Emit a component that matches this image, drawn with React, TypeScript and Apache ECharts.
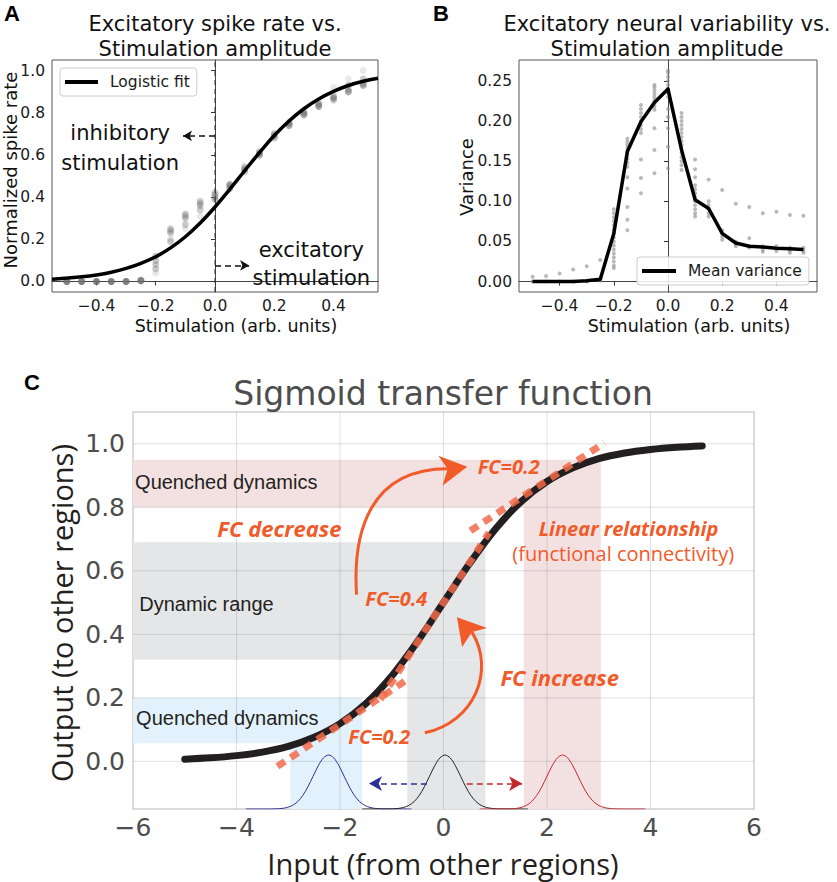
import React, { useEffect, useRef } from "react";
import * as echarts from "echarts";

// ---------- Panel A: spike rate ----------
const stim = [-0.5, -0.45, -0.4, -0.35, -0.3, -0.25, -0.2, -0.15, -0.1, -0.05, 0, 0.05, 0.1, 0.15, 0.2, 0.25, 0.3, 0.35, 0.4, 0.45, 0.5];
const rateTrial1 = [0, 0, 0, 0, 0, 0.005, 0.12, 0.25, 0.32, 0.38, 0.42, 0.46, 0.54, 0.61, 0.7, 0.75, 0.8, 0.84, 0.87, 0.9, 0.93];
const rateTrial2 = [0, 0, 0, 0, 0, 0.005, 0.1, 0.24, 0.31, 0.37, 0.41, 0.45, 0.53, 0.61, 0.69, 0.75, 0.8, 0.83, 0.87, 0.9, 0.93];
const rateTrial3 = [0, 0, 0, 0, 0, 0.004, 0.08, 0.23, 0.3, 0.36, 0.4, 0.46, 0.53, 0.6, 0.69, 0.74, 0.79, 0.83, 0.86, 0.91, 0.94];
const rateTrial4 = [0, 0, 0, 0, 0, 0.003, 0.06, 0.19, 0.27, 0.34, 0.39, 0.44, 0.52, 0.6, 0.68, 0.74, 0.79, 0.84, 0.88, 0.93, 0.96];
const rateTrial5 = [0, 0, 0, 0, 0, 0.002, 0.04, 0.2, 0.25, 0.31, 0.385, 0.45, 0.55, 0.62, 0.7, 0.76, 0.81, 0.85, 0.92, 0.96, 1.0];
const fitStim = [-0.55, -0.5, -0.45, -0.4, -0.35, -0.3, -0.25, -0.2, -0.15, -0.1, -0.05, 0, 0.05, 0.1, 0.15, 0.2, 0.25, 0.3, 0.35, 0.4, 0.45, 0.5, 0.55];
const fitRate = [0.011, 0.016, 0.022, 0.031, 0.044, 0.062, 0.086, 0.117, 0.159, 0.212, 0.277, 0.353, 0.437, 0.525, 0.611, 0.692, 0.761, 0.819, 0.865, 0.901, 0.929, 0.949, 0.963];
const ticksAx = [-0.4, -0.2, 0, 0.2, 0.4];
const ticksAy = [0, 0.2, 0.4, 0.6, 0.8, 1.0];

// ---------- Panel B: variance ----------
const meanVariance = [0, 0, 0, 0, 0.001, 0.003, 0.06, 0.162, 0.199, 0.223, 0.24, 0.164, 0.102, 0.091, 0.06, 0.048, 0.044, 0.043, 0.0415, 0.041, 0.04];
const varianceSamples = [
  [0, 0.006],
  [0, 0.007],
  [0, 0.01],
  [0, 0.015],
  [0, 0.001, 0.019],
  [0.001, 0.003, 0.027],
  [0.017, 0.02, 0.025, 0.03, 0.035, 0.04, 0.045, 0.05, 0.055, 0.06, 0.065, 0.07, 0.075, 0.08, 0.085, 0.09],
  [0.064, 0.077, 0.093, 0.116, 0.13, 0.143, 0.148, 0.153, 0.158, 0.162, 0.166, 0.17, 0.174, 0.178],
  [0.11, 0.129, 0.152, 0.185, 0.19, 0.195, 0.2, 0.205, 0.21, 0.215, 0.22],
  [0.135, 0.164, 0.191, 0.214, 0.218, 0.222, 0.226, 0.23, 0.234, 0.238, 0.242, 0.245],
  [0.141, 0.168, 0.191, 0.205, 0.215, 0.23, 0.235, 0.24, 0.245, 0.25, 0.255, 0.26, 0.263],
  [0.139, 0.145, 0.15, 0.155, 0.16, 0.165, 0.17, 0.175, 0.18, 0.185, 0.19, 0.195, 0.2, 0.205, 0.21],
  [0.081, 0.085, 0.09, 0.095, 0.1, 0.105, 0.11, 0.115, 0.12, 0.13, 0.14, 0.152],
  [0.081, 0.085, 0.09, 0.095, 0.1, 0.127],
  [0.052, 0.056, 0.06, 0.064, 0.114],
  [0.044, 0.047, 0.05, 0.097],
  [0.042, 0.044, 0.054, 0.093],
  [0.037, 0.04, 0.044, 0.085],
  [0.038, 0.041, 0.044, 0.087],
  [0.036, 0.039, 0.042, 0.083],
  [0.036, 0.039, 0.042, 0.082],
];
const ticksBy = [0, 0.05, 0.1, 0.15, 0.2, 0.25];

// ---------- Panel C: sigmoid transfer function ----------
const sigmoidIn = [-5, -4.5, -4, -3.5, -3, -2.5, -2, -1.5, -1, -0.5, 0, 0.5, 1, 1.5, 2, 2.5, 3, 3.5, 4, 4.5, 5];
const sigmoidOut = [0.007, 0.011, 0.018, 0.029, 0.047, 0.076, 0.119, 0.182, 0.269, 0.378, 0.5, 0.622, 0.731, 0.818, 0.881, 0.924, 0.953, 0.971, 0.982, 0.989, 0.993];
const tangentLow = [[-3.21, -0.016], [-0.64, 0.264]];
const tangentMid = [[-1.22, 0.195], [0.88, 0.72]];
const tangentHigh = [[0.52, 0.726], [3.11, 1.003]];
const bumpOffsets = [-1.6, -1.5, -1.4, -1.3, -1.2, -1.1, -1.0, -0.9, -0.8, -0.7, -0.6, -0.5, -0.4, -0.3, -0.2, -0.1, 0, 0.1, 0.2, 0.3, 0.4, 0.5, 0.6, 0.7, 0.8, 0.9, 1.0, 1.1, 1.2, 1.3, 1.4, 1.5, 1.6];
const bumpShape = [0, 0, 0, 0, 0, 0.001, 0.004, 0.011, 0.029, 0.066, 0.135, 0.249, 0.411, 0.607, 0.801, 0.946, 1, 0.946, 0.801, 0.607, 0.411, 0.249, 0.135, 0.066, 0.029, 0.011, 0.004, 0.001, 0, 0, 0, 0, 0];
const bumpBase = -0.15;
const bumpAmp = 0.17;
const bumpCenterBlue = -2.22;
const bumpCenterBlack = 0.03;
const bumpCenterRed = 2.3;
const shiftLeft = [[-0.32, -0.07], [-1.44, -0.07]];
const shiftRight = [[0.45, -0.07], [1.52, -0.07]];
// bands: [x0, y0, x1, y1, colourIndex]
const bands = [
  [-6, 0.8, 3.04, 0.95, 0],
  [1.55, -0.15, 3.04, 0.8, 0],
  [-6, 0.32, 0.81, 0.69, 1],
  [-0.7, -0.15, 0.81, 0.32, 1],
  [-6, 0.057, -1.57, 0.2, 2],
  [-2.96, -0.15, -1.57, 0.057, 2],
];
const ticksCy = [0, 0.2, 0.4, 0.6, 0.8, 1.0];
const gridCx = [-4, -2, 0, 2, 4];
const gridCy = [0, 0.2, 0.4, 0.6, 0.8, 1.0];

const DV = "'DejaVu Sans', sans-serif";
const OS = "'Open Sans', sans-serif";
const LS = "'Liberation Sans', Arial, sans-serif";
const ORANGE = "#f15a29";
const bandColors = ["#f3e1e2", "#e5e6e8", "#e2f1fb"];

const fmt = (v: number, d: number) => (v < 0 ? "\u2212" : "") + Math.abs(v).toFixed(d);

function buildOption(): any {
  const axisCommonAB = (ticks: number[], d: number, isX: boolean) => ({
    type: "value",
    axisLine: { show: true, lineStyle: { color: "#444", width: 1 } },
    axisTick: { show: true, length: 4, customValues: ticks, lineStyle: { color: "#333" } },
    axisLabel: {
      customValues: ticks,
      formatter: (v: number) => fmt(v, d),
      fontSize: 15.5,
      fontFamily: DV,
      color: "#1a1a1a",
      margin: isX ? 6 : 7,
    },
    splitLine: { show: false },
  });

  const scatterA = [rateTrial1, rateTrial2, rateTrial3, rateTrial4, rateTrial5].map((tr, k) => ({
    type: "scatter",
    xAxisIndex: 0,
    yAxisIndex: 0,
    symbolSize: 7,
    itemStyle: { color: "#6e6e6e", opacity: k === 4 ? 0.15 : 0.35 },
    data: stim.map((x, i) => [x, tr[i]]),
    z: 2,
    silent: true,
  }));

  const scatterB: number[][] = [];
  varianceSamples.forEach((arr, i) => arr.forEach((v) => scatterB.push([stim[i], v])));

  const bump = (c: number) => bumpOffsets.map((o, i) => [c + o, bumpBase + bumpAmp * bumpShape[i]]);

  const gridLines: number[][] = [];
  gridCx.forEach((x) => gridLines.push([x, -0.15, x, 1.1]));
  gridCy.forEach((y) => gridLines.push([-6, y, 6, y]));

  const tangentStyle = {
    color: "#f26b4a",
    width: 7,
    type: [9, 7],
    opacity: 0.85,
    cap: "butt",
  };

  return {
    animation: false,
    backgroundColor: "#ffffff",
    title: [
      {
        text: "Excitatory spike rate vs.\nStimulation amplitude",
        left: 215,
        top: 11,
        padding: 0,
        textAlign: "center",
        textStyle: { fontSize: 21, fontWeight: "normal", fontFamily: DV, color: "#111", lineHeight: 25 },
      },
      {
        text: "Excitatory neural variability vs.\nStimulation amplitude",
        left: 667,
        top: 11,
        padding: 0,
        textAlign: "center",
        textStyle: { fontSize: 21, fontWeight: "normal", fontFamily: DV, color: "#111", lineHeight: 25 },
      },
      {
        text: "Sigmoid transfer function",
        left: 443,
        top: 375,
        padding: 0,
        textAlign: "center",
        textStyle: { fontSize: 33, fontWeight: "normal", fontFamily: DV, color: "#4d4d4d", lineHeight: 36 },
      },
    ],
    legend: [
      {
        data: ["Logistic fit"],
        left: 60,
        top: 68,
        padding: [6, 7, 6, 5],
        itemWidth: 33,
        itemHeight: 4,
        icon: "rect",
        borderColor: "#cccccc",
        borderWidth: 1,
        borderRadius: 3,
        backgroundColor: "rgba(255,255,255,0.85)",
        textStyle: { fontSize: 15.5, fontFamily: DV, color: "#1a1a1a", padding: [0, 0, 0, 7] },
      },
      {
        data: ["Mean variance"],
        left: 637,
        top: 257,
        padding: [6, 7, 6, 5],
        itemWidth: 34,
        itemHeight: 4,
        icon: "rect",
        borderColor: "#cccccc",
        borderWidth: 1,
        borderRadius: 3,
        backgroundColor: "rgba(255,255,255,0.85)",
        textStyle: { fontSize: 15.5, fontFamily: DV, color: "#1a1a1a", padding: [0, 0, 0, 7] },
      },
    ],
    grid: [
      { left: 52, top: 60, width: 326, height: 232, show: true, borderColor: "#555", borderWidth: 1, backgroundColor: "transparent" },
      { left: 519, top: 60, width: 298, height: 232, show: true, borderColor: "#555", borderWidth: 1, backgroundColor: "transparent" },
      { left: 133, top: 412, width: 621, height: 397, show: true, borderColor: "#cfcfcf", borderWidth: 1.5, backgroundColor: "transparent" },
    ],
    xAxis: [
      { gridIndex: 0, min: -0.55, max: 0.55, ...axisCommonAB(ticksAx, 1, true) },
      { gridIndex: 1, min: -0.55, max: 0.55, ...axisCommonAB(ticksAx, 1, true) },
      {
        gridIndex: 2,
        type: "value",
        min: -6,
        max: 6,
        interval: 2,
        axisLine: { show: false },
        axisTick: { show: false },
        splitLine: { show: false },
        axisLabel: { formatter: (v: number) => fmt(v, 0), fontSize: 25, fontFamily: DV, color: "#4d4d4d", margin: 6 },
      },
    ],
    yAxis: [
      { gridIndex: 0, min: -0.05, max: 1.05, ...axisCommonAB(ticksAy, 1, false) },
      { gridIndex: 1, min: -0.013, max: 0.276, ...axisCommonAB(ticksBy, 2, false) },
      {
        gridIndex: 2,
        type: "value",
        min: -0.15,
        max: 1.1,
        axisLine: { show: false },
        axisTick: { show: false },
        splitLine: { show: false },
        axisLabel: {
          customValues: ticksCy,
          formatter: (v: number) => fmt(v, 1),
          fontSize: 25,
          fontFamily: DV,
          color: "#4d4d4d",
          margin: 8,
        },
      },
    ],
    series: [
      // ----- A -----
      ...scatterA,
      {
        name: "Logistic fit",
        type: "line",
        xAxisIndex: 0,
        yAxisIndex: 0,
        smooth: 0.4,
        symbol: "none",
        color: "#000",
        lineStyle: { color: "#000", width: 3.5 },
        data: fitStim.map((x, i) => [x, fitRate[i]]),
        z: 4,
      },
      {
        type: "line",
        xAxisIndex: 0,
        yAxisIndex: 0,
        symbol: "none",
        lineStyle: { color: "#333", width: 1, type: [5, 4] },
        data: [[0, -0.05], [0, 1.05]],
        z: 3,
        silent: true,
        markLine: {
          silent: true,
          symbol: ["none", "arrow"],
          symbolSize: [8, 9],
          label: { show: false },
          lineStyle: { color: "#111", width: 1.5, type: [6, 4] },
          data: [
            [{ coord: [0, 0.69] }, { coord: [-0.108, 0.69] }],
            [{ coord: [0, 0.076] }, { coord: [0.115, 0.076] }],
          ],
        },
      },
      // ----- B -----
      {
        type: "scatter",
        xAxisIndex: 1,
        yAxisIndex: 1,
        symbolSize: 4,
        itemStyle: { color: "#8a8a8a", opacity: 0.6 },
        data: scatterB,
        silent: true,
        z: 2,
      },
      {
        name: "Mean variance",
        type: "line",
        xAxisIndex: 1,
        yAxisIndex: 1,
        symbol: "none",
        color: "#000",
        lineStyle: { color: "#000", width: 3.5, join: "round" },
        data: stim.map((x, i) => [x, meanVariance[i]]),
        z: 4,
      },
      // ----- C -----
      {
        type: "custom",
        xAxisIndex: 2,
        yAxisIndex: 2,
        silent: true,
        z: 1,
        data: bands,
        renderItem: (_p: any, api: any) => {
          const a = api.coord([api.value(0), api.value(3)]);
          const b = api.coord([api.value(2), api.value(1)]);
          return {
            type: "rect",
            shape: { x: a[0], y: a[1], width: b[0] - a[0], height: b[1] - a[1] },
            style: { fill: bandColors[api.value(4)] },
          };
        },
      },
      {
        type: "custom",
        xAxisIndex: 2,
        yAxisIndex: 2,
        silent: true,
        z: 2,
        data: gridLines,
        renderItem: (_p: any, api: any) => {
          const a = api.coord([api.value(0), api.value(1)]);
          const b = api.coord([api.value(2), api.value(3)]);
          return {
            type: "line",
            shape: { x1: a[0], y1: a[1], x2: b[0], y2: b[1] },
            style: { stroke: "rgba(0,0,0,0.12)", lineWidth: 1 },
          };
        },
      },
      {
        type: "line",
        xAxisIndex: 2,
        yAxisIndex: 2,
        symbol: "none",
        smooth: 0.3,
        lineStyle: { color: "#2e3192", width: 1 },
        data: bump(bumpCenterBlue),
        z: 3,
        silent: true,
        markLine: {
          silent: true,
          symbol: ["none", "arrow"],
          symbolSize: [11, 13],
          label: { show: false },
          lineStyle: { color: "#2e3192", width: 1.5, type: [6, 4] },
          data: [[{ coord: shiftLeft[0] }, { coord: shiftLeft[1] }]],
        },
      },
      {
        type: "line",
        xAxisIndex: 2,
        yAxisIndex: 2,
        symbol: "none",
        smooth: 0.3,
        lineStyle: { color: "#231f20", width: 1 },
        data: bump(bumpCenterBlack),
        z: 3,
        silent: true,
      },
      {
        type: "line",
        xAxisIndex: 2,
        yAxisIndex: 2,
        symbol: "none",
        smooth: 0.3,
        lineStyle: { color: "#c1272d", width: 1 },
        data: bump(bumpCenterRed),
        z: 3,
        silent: true,
        markLine: {
          silent: true,
          symbol: ["none", "arrow"],
          symbolSize: [11, 13],
          label: { show: false },
          lineStyle: { color: "#c1272d", width: 1.5, type: [6, 4] },
          data: [[{ coord: shiftRight[0] }, { coord: shiftRight[1] }]],
        },
      },
      {
        type: "line",
        xAxisIndex: 2,
        yAxisIndex: 2,
        symbol: "none",
        smooth: 0.35,
        lineStyle: { color: "#231f20", width: 7, cap: "round" },
        data: sigmoidIn.map((x, i) => [x, sigmoidOut[i]]),
        z: 5,
        silent: true,
      },
      ...[tangentLow, tangentMid, tangentHigh].map((seg) => ({
        type: "line",
        xAxisIndex: 2,
        yAxisIndex: 2,
        symbol: "none",
        lineStyle: tangentStyle,
        data: seg,
        z: 6,
        silent: true,
      })),
    ],
  };
}

// annotation anchors in data coordinates
const decArc = [[-1.68, 0.525], [-1.76, 0.726], [-1.41, 0.921], [0.08, 0.921]];
const decHead = [[0.46, 0.928], [-0.1, 0.962], [0.08, 0.921], [-0.02, 0.868]];
const incArc = [[-0.36, 0.09], [0.61, 0.124], [1.0, 0.288], [0.55, 0.407]];
const incHead = [[0.26, 0.454], [0.84, 0.42], [0.55, 0.407], [0.36, 0.36]];

function buildGraphic(pa: (x: number, y: number) => number[], pc: (x: number, y: number) => number[]): any[] {
  const T = (p: number[], text: string, s: any, rotation = 0) => ({
    type: "text",
    x: p[0],
    y: p[1],
    rotation,
    z: 100,
    silent: true,
    style: {
      text,
      fill: s.fill || "#111",
      fontSize: s.fontSize,
      fontFamily: s.fontFamily || DV,
      fontWeight: s.fontWeight || "normal",
      fontStyle: s.fontStyle || "normal",
      align: s.align || "center",
      verticalAlign: "middle",
      lineHeight: s.lineHeight,
    },
  });
  const fc = (p: number[], text: string, size: number) =>
    T(p, text, { fill: ORANGE, fontSize: size, fontFamily: OS, fontWeight: "bold", fontStyle: "italic", align: "left" });
  const arc = (pts: number[][]) => {
    const q = pts.map((d) => pc(d[0], d[1]));
    return {
      type: "bezierCurve",
      z: 100,
      silent: true,
      shape: { x1: q[0][0], y1: q[0][1], cpx1: q[1][0], cpy1: q[1][1], cpx2: q[2][0], cpy2: q[2][1], x2: q[3][0], y2: q[3][1] },
      style: { stroke: ORANGE, lineWidth: 3, fill: null },
    };
  };
  const head = (pts: number[][]) => ({
    type: "polygon",
    z: 101,
    silent: true,
    shape: { points: pts.map((d) => pc(d[0], d[1])) },
    style: { fill: ORANGE },
  });

  return [
    T([12, 13], "A", { fontSize: 22, fontFamily: LS, fontWeight: "bold", fill: "#000" }),
    T([441, 13], "B", { fontSize: 22, fontFamily: LS, fontWeight: "bold", fill: "#000" }),
    T([32, 382], "C", { fontSize: 22, fontFamily: LS, fontWeight: "bold", fill: "#000" }),
    T([10, 170], "Normalized spike rate", { fontSize: 18 }, Math.PI / 2),
    T([236, 326], "Stimulation (arb. units)", { fontSize: 17.5 }),
    T([466, 177], "Variance", { fontSize: 18 }, Math.PI / 2),
    T([689, 326], "Stimulation (arb. units)", { fontSize: 17.5 }),
    T(pa(-0.32, 0.634), "inhibitory\nstimulation", { fontSize: 21, lineHeight: 30 }),
    T(pa(0.325, 0.082), "excitatory\nstimulation", { fontSize: 21, lineHeight: 28 }),
    T([61, 613], "Output (to other regions)", { fontSize: 29, fontFamily: OS, fill: "#231f20" }, Math.PI / 2),
    T([443, 863], "Input (from other regions)", { fontSize: 29, fontFamily: OS, fill: "#231f20" }),
    T(pc(-5.96, 0.88), "Quenched dynamics", { fontSize: 20, fontFamily: LS, fill: "#231f20", align: "left" }),
    T(pc(-5.88, 0.494), "Dynamic range", { fontSize: 20, fontFamily: LS, fill: "#231f20", align: "left" }),
    T(pc(-5.94, 0.135), "Quenched dynamics", { fontSize: 20, fontFamily: LS, fill: "#231f20", align: "left" }),
    fc(pc(-4.37, 0.736), "FC decrease", 22),
    fc(pc(1.1, 0.267), "FC increase", 22),
    fc(pc(0.66, 0.928), "FC=0.2", 20),
    fc(pc(-1.51, 0.513), "FC=0.4", 20),
    fc(pc(-1.84, 0.079), "FC=0.2", 20),
    fc(pc(1.84, 0.733), "Linear relationship", 20),
    T(pc(1.33, 0.654), "(functional connectivity)", { fontSize: 20, fontFamily: OS, fill: ORANGE, align: "left" }),
    arc(decArc),
    head(decHead),
    arc(incArc),
    head(incHead),
  ];
}

export default function App() {
  const ref = useRef<HTMLDivElement>(null);
  useEffect(() => {
    document.body.style.margin = "0";
    const chart = echarts.init(ref.current as HTMLDivElement, null, { renderer: "svg" });
    chart.setOption(buildOption());
    const pa = (x: number, y: number) => chart.convertToPixel({ gridIndex: 0 }, [x, y]) as number[];
    const pc = (x: number, y: number) => chart.convertToPixel({ gridIndex: 2 }, [x, y]) as number[];
    chart.setOption({ graphic: buildGraphic(pa, pc) });
    return () => chart.dispose();
  }, []);
  return <div ref={ref} style={{ width: 837, height: 882 }} />;
}
